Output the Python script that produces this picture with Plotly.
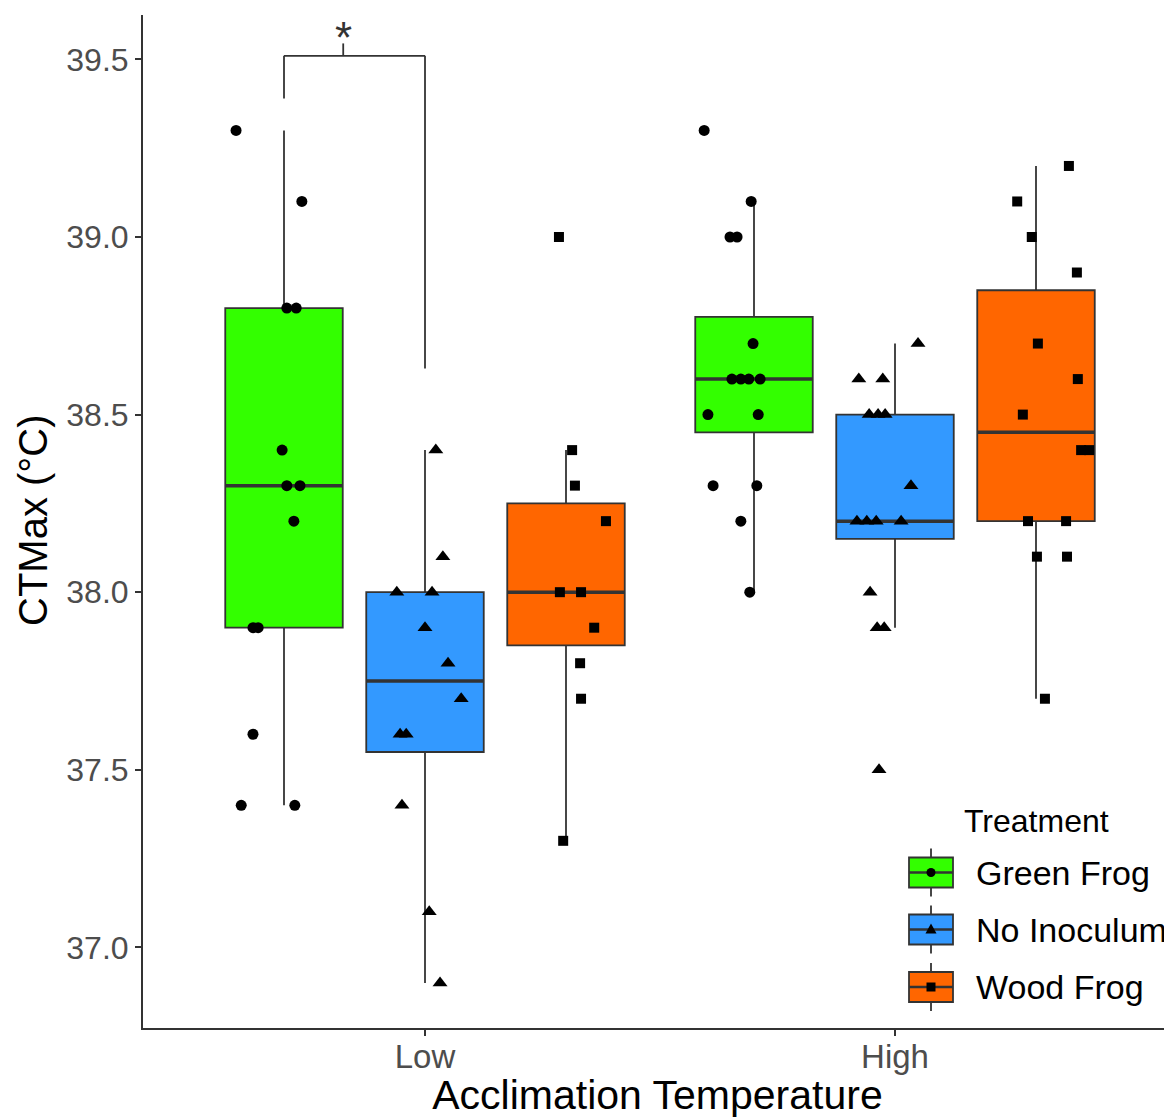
import plotly.graph_objects as go

# ---------------- data ----------------
groups = ["Low", "High"]
group_pos = [1, 2]
treatments = ["Green Frog", "No Inoculum", "Wood Frog"]
dodge = [-0.3, 0.0, 0.3]
fill_colors = ["#33FF00", "#3399FF", "#FF6600"]
symbols = ["circle", "triangle-up", "square"]

# box statistics, ordered [Low, High]
q1 = {"Green Frog": [37.9, 38.45], "No Inoculum": [37.55, 38.15], "Wood Frog": [37.85, 38.2]}
median = {"Green Frog": [38.3, 38.6], "No Inoculum": [37.75, 38.2], "Wood Frog": [38.0, 38.45]}
q3 = {"Green Frog": [38.8, 38.775], "No Inoculum": [38.0, 38.5], "Wood Frog": [38.25, 38.85]}
lowerfence = {"Green Frog": [37.4, 38.0], "No Inoculum": [36.9, 37.9], "Wood Frog": [37.3, 37.7]}
upperfence = {"Green Frog": [39.3, 39.1], "No Inoculum": [38.4, 38.7], "Wood Frog": [38.4, 39.2]}

# individual observations (CTMax) and their horizontal jitter
low_green = [39.3, 39.1, 38.8, 38.8, 38.4, 38.3, 38.3, 38.2, 37.9, 37.9, 37.6, 37.4, 37.4]
low_green_jit = [-0.102, 0.038, 0.006, 0.026, -0.004, 0.006, 0.034, 0.021, -0.066, -0.055, -0.066, -0.091, 0.023]
low_blue = [38.4, 38.1, 38.0, 38.0, 37.9, 37.8, 37.7, 37.6, 37.6, 37.4, 37.1, 36.9]
low_blue_jit = [0.023, 0.038, -0.060, 0.015, 0.0, 0.049, 0.077, -0.053, -0.040, -0.049, 0.009, 0.032]
low_wood = [39.0, 38.4, 38.3, 38.2, 38.0, 38.0, 37.9, 37.8, 37.7, 37.3]
low_wood_jit = [-0.015, 0.013, 0.019, 0.085, -0.013, 0.032, 0.060, 0.030, 0.032, -0.006]
high_green = [39.3, 39.1, 39.0, 39.0, 38.7, 38.6, 38.6, 38.6, 38.6, 38.5, 38.5, 38.3, 38.3, 38.2, 38.0]
high_green_jit = [-0.106, -0.006, -0.051, -0.036, -0.002, -0.047, -0.028, -0.011, 0.013, -0.098, 0.009, -0.087, 0.006, -0.028, -0.009]
high_blue = [38.7, 38.6, 38.6, 38.5, 38.5, 38.5, 38.3, 38.2, 38.2, 38.2, 38.2, 38.0, 37.9, 37.9, 37.5]
high_blue_jit = [0.049, -0.077, -0.026, -0.055, -0.036, -0.021, 0.034, -0.081, -0.060, -0.040, 0.013, -0.053, -0.038, -0.023, -0.034]
high_wood = [39.2, 39.1, 39.0, 38.9, 38.7, 38.6, 38.5, 38.4, 38.4, 38.2, 38.2, 38.1, 38.1, 37.7]
high_wood_jit = [0.070, -0.040, -0.009, 0.087, 0.004, 0.089, -0.028, 0.096, 0.113, -0.017, 0.064, 0.002, 0.066, 0.019]

points = {
    "Green Frog": [(low_green, low_green_jit), (high_green, high_green_jit)],
    "No Inoculum": [(low_blue, low_blue_jit), (high_blue, high_blue_jit)],
    "Wood Frog": [(low_wood, low_wood_jit), (high_wood, high_wood_jit)],
}

# significance bracket (Low: Green Frog vs No Inoculum)
sig_label = "*"
bracket_top = 39.51
bracket_left_end = 39.39
bracket_right_end = 38.63
bracket_tip = 39.545

x_title = "Acclimation Temperature"
y_title = "CTMax (°C)"
legend_title = "Treatment"

# ---------------- figure ----------------
FONT = "Liberation Sans, Arial, sans-serif"
PAGE_OFF = 8                     # default body margin of the page
W, H = 1172 - PAGE_OFF, 1118 - PAGE_OFF
ML, MR, MT, MB = 143 - PAGE_OFF, 0, 15 - PAGE_OFF, 90
BOXW = 0.25
OUT = "#333333"

fig = go.Figure()

for ti, t in enumerate(treatments):
    xs = [g + dodge[ti] for g in group_pos]
    fig.add_trace(go.Box(
        x=xs, q1=q1[t], median=median[t], q3=q3[t],
        lowerfence=lowerfence[t], upperfence=upperfence[t],
        width=BOXW, whiskerwidth=0, fillcolor=fill_colors[ti],
        line=dict(color=OUT, width=1.8), boxpoints=False,
        name=t, showlegend=False, hoverinfo="skip",
    ))
    # thicker median segments
    mx, my = [], []
    for gi, xc in enumerate(xs):
        mx += [xc - BOXW / 2, xc + BOXW / 2, None]
        my += [median[t][gi], median[t][gi], None]
    fig.add_trace(go.Scatter(x=mx, y=my, mode="lines",
                             line=dict(color=OUT, width=3.5),
                             showlegend=False, hoverinfo="skip"))

for ti, t in enumerate(treatments):
    px, py = [], []
    for gi, (vals, jit) in enumerate(points[t]):
        xc = group_pos[gi] + dodge[ti]
        px += [xc + j for j in jit]
        py += vals
    fig.add_trace(go.Scatter(
        x=px, y=py, mode="markers",
        marker=dict(symbol=symbols[ti], color="black",
                    size=[11, 13, 10][ti], line=dict(width=0)),
        showlegend=False, hoverinfo="skip",
    ))

# bracket
xl = group_pos[0] + dodge[0]
xr = group_pos[0] + dodge[1]
xm = 0.826
for (x0, y0, x1, y1) in [(xl, bracket_left_end, xl, bracket_top),
                         (xl, bracket_top, xr, bracket_top),
                         (xr, bracket_top, xr, bracket_right_end),
                         (xm, bracket_top, xm, bracket_tip)]:
    fig.add_shape(type="line", x0=x0, y0=y0, x1=x1, y1=y1, xref="x", yref="y",
                  line=dict(color=OUT, width=1.8))
fig.add_annotation(x=xm, y=39.563, xref="x", yref="y", text=sig_label,
                   showarrow=False, font=dict(family=FONT, size=44, color=OUT),
                   yanchor="middle", xanchor="center")

# ---------------- manual legend (ggplot-style keys) ----------------
PW, PH = W - ML - MR, H - MT - MB
def pxp(xpage):
    return (xpage - PAGE_OFF - ML) / PW
def pyp(ypage):
    return (H - MB - (ypage - PAGE_OFF)) / PH

# y-axis title
fig.add_annotation(x=pxp(33), y=pyp(520), xref="paper", yref="paper",
                   text=y_title, textangle=-90, showarrow=False,
                   xanchor="center", yanchor="middle",
                   font=dict(family=FONT, size=40, color="black"))

fig.add_annotation(x=pxp(962), y=pyp(821), xref="paper", yref="paper",
                   text=legend_title, showarrow=False, xanchor="left", yanchor="middle",
                   font=dict(family=FONT, size=32, color="black"))
row_y = [872.5, 929.5, 987.0]
kx0, kx1 = 909, 953
kxc = (kx0 + kx1) / 2
for ti, t in enumerate(treatments):
    yc = row_y[ti]
    fig.add_shape(type="line", xref="paper", yref="paper",
                  x0=pxp(kxc), x1=pxp(kxc), y0=pyp(yc - 24), y1=pyp(yc + 24),
                  line=dict(color=OUT, width=1.8))
    fig.add_shape(type="rect", xref="paper", yref="paper",
                  x0=pxp(kx0), x1=pxp(kx1), y0=pyp(yc - 15), y1=pyp(yc + 15),
                  fillcolor=fill_colors[ti], line=dict(color=OUT, width=1.8))
    fig.add_shape(type="line", xref="paper", yref="paper",
                  x0=pxp(kx0), x1=pxp(kx1), y0=pyp(yc), y1=pyp(yc),
                  line=dict(color=OUT, width=2.5))
    r = 4.5
    if symbols[ti] == "circle":
        fig.add_shape(type="circle", xref="paper", yref="paper",
                      x0=pxp(kxc - r), x1=pxp(kxc + r), y0=pyp(yc - r), y1=pyp(yc + r),
                      fillcolor="black", line=dict(width=0))
    elif symbols[ti] == "square":
        fig.add_shape(type="rect", xref="paper", yref="paper",
                      x0=pxp(kxc - r), x1=pxp(kxc + r), y0=pyp(yc - r), y1=pyp(yc + r),
                      fillcolor="black", line=dict(width=0))
    else:
        path = "M {} {} L {} {} L {} {} Z".format(
            pxp(kxc - 5.5), pyp(yc + 4), pxp(kxc + 5.5), pyp(yc + 4), pxp(kxc), pyp(yc - 6))
        fig.add_shape(type="path", xref="paper", yref="paper", path=path,
                      fillcolor="black", line=dict(width=0))
    fig.add_annotation(x=pxp(974), y=pyp(yc), xref="paper", yref="paper",
                       text=t, showarrow=False, xanchor="left", yanchor="middle",
                       font=dict(family=FONT, size=34, color="black"))

fig.update_layout(
    width=W, height=H,
    margin=dict(l=ML, r=MR, t=MT, b=MB, autoexpand=False),
    paper_bgcolor="white", plot_bgcolor="white",
    font=dict(family=FONT),
    showlegend=False,
    boxmode="overlay",
)
fig.update_xaxes(
    range=[0.4, 0.4 + PW / 470.0],
    tickmode="array", tickvals=group_pos, ticktext=groups,
    showline=True, linecolor=OUT, linewidth=2, mirror=False,
    ticks="outside", ticklen=6, tickwidth=1.5, tickcolor=OUT,
    ticklabelstandoff=-8,
    tickfont=dict(family=FONT, size=33, color="#4D4D4D"),
    showgrid=False, zeroline=False,
    title=dict(text=x_title, font=dict(family=FONT, size=41, color="black"), standoff=3),
)
fig.update_yaxes(
    range=[36.773, 39.625],
    tickmode="linear", tick0=37.0, dtick=0.5, tickformat=".1f",
    showline=True, linecolor=OUT, linewidth=2, mirror=False,
    ticks="outside", ticklen=6, tickwidth=1.5, tickcolor=OUT,
    tickfont=dict(family=FONT, size=32, color="#4D4D4D"),
    showgrid=False, zeroline=False,
)

fig.write_html("out.html")
